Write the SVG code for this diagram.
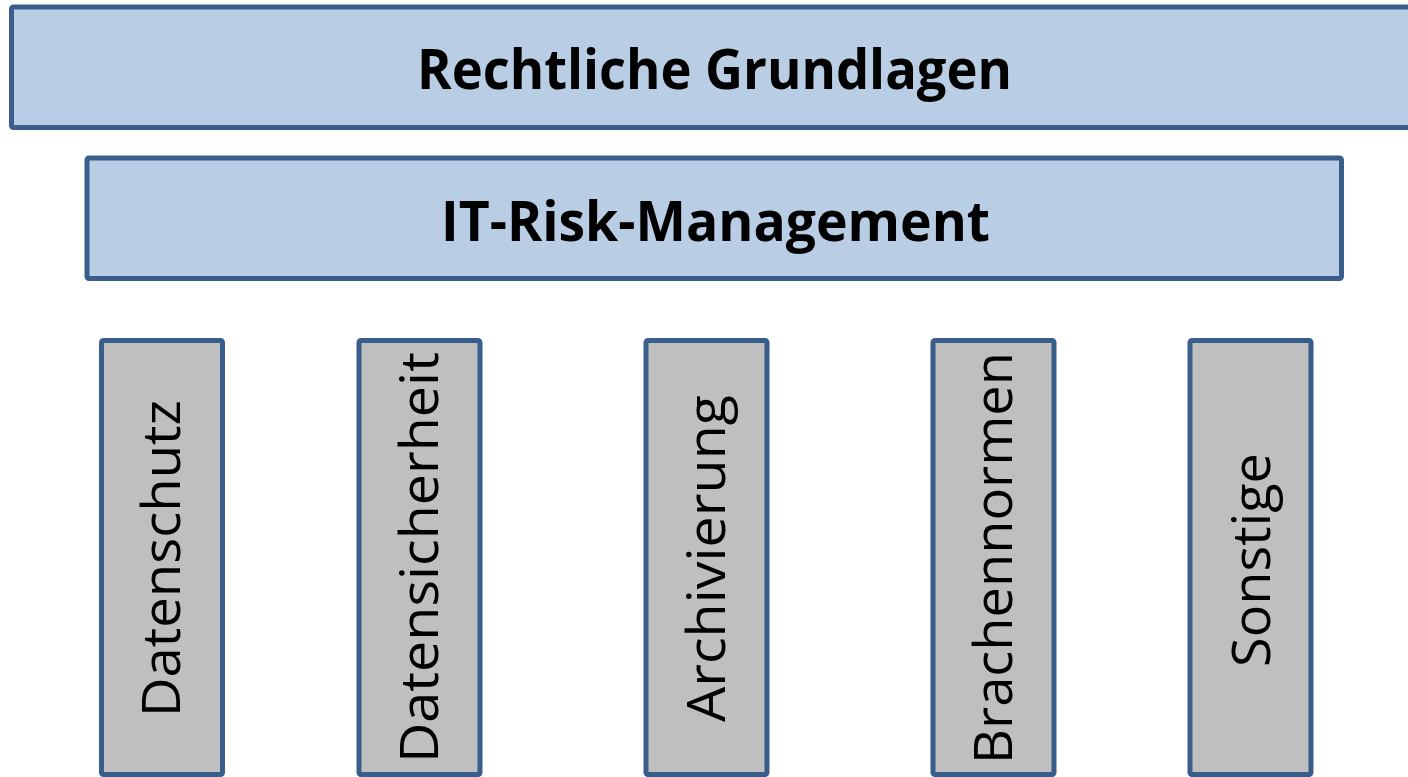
<svg xmlns="http://www.w3.org/2000/svg" width="1408" height="777" viewBox="0 0 1408 777">
<style>
.bar{fill:#B9CDE5;stroke:#3A5E8C;stroke-width:5}
.pil{fill:#BFBFBF;stroke:#3A5E8C;stroke-width:5}
.hd{font-family:"Open Sans","Liberation Sans",sans-serif;font-weight:bold;font-size:56px;fill:#000;text-anchor:middle}
.vt{font-family:"Open Sans","Liberation Sans",sans-serif;font-size:53px;fill:#000;text-anchor:middle}
</style>
<rect width="1408" height="777" fill="#FFFFFF"/>
<g id="rechtliche-grundlagen">
<rect class="bar" x="11.5" y="7" width="1410" height="120.5" rx="2"/>
<text class="hd" x="714.5" y="89" textLength="595" lengthAdjust="spacingAndGlyphs">Rechtliche Grundlagen</text>
</g>
<g id="it-risk-management">
<rect class="bar" x="87" y="158" width="1254.5" height="120.5" rx="2"/>
<text class="hd" x="715.5" y="241" textLength="549" lengthAdjust="spacingAndGlyphs">IT-Risk-Management</text>
</g>
<g id="datenschutz">
<rect class="pil" x="101.5" y="340.5" width="121" height="434" rx="2"/>
<text class="vt" transform="translate(180,558.5) rotate(-90)" textLength="317" lengthAdjust="spacingAndGlyphs">Datenschutz</text>
</g>
<g id="datensicherheit">
<rect class="pil" x="359" y="340.5" width="121" height="434" rx="2"/>
<text class="vt" transform="translate(438,557.5) rotate(-90)" textLength="411" lengthAdjust="spacingAndGlyphs">Datensicherheit</text>
</g>
<g id="archivierung">
<rect class="pil" x="646" y="340.5" width="121" height="434" rx="2"/>
<text class="vt" transform="translate(725,558.5) rotate(-90)" textLength="327" lengthAdjust="spacingAndGlyphs">Archivierung</text>
</g>
<g id="brachennormen">
<rect class="pil" x="933" y="340.5" width="121" height="434" rx="2"/>
<text class="vt" transform="translate(1012,558) rotate(-90)" textLength="412" lengthAdjust="spacingAndGlyphs">Brachennormen</text>
</g>
<g id="sonstige">
<rect class="pil" x="1190" y="340.5" width="121" height="434" rx="2"/>
<text class="vt" transform="translate(1270,560) rotate(-90)" textLength="214" lengthAdjust="spacingAndGlyphs">Sonstige</text>
</g>
<g id="connectors"></g>
</svg>
